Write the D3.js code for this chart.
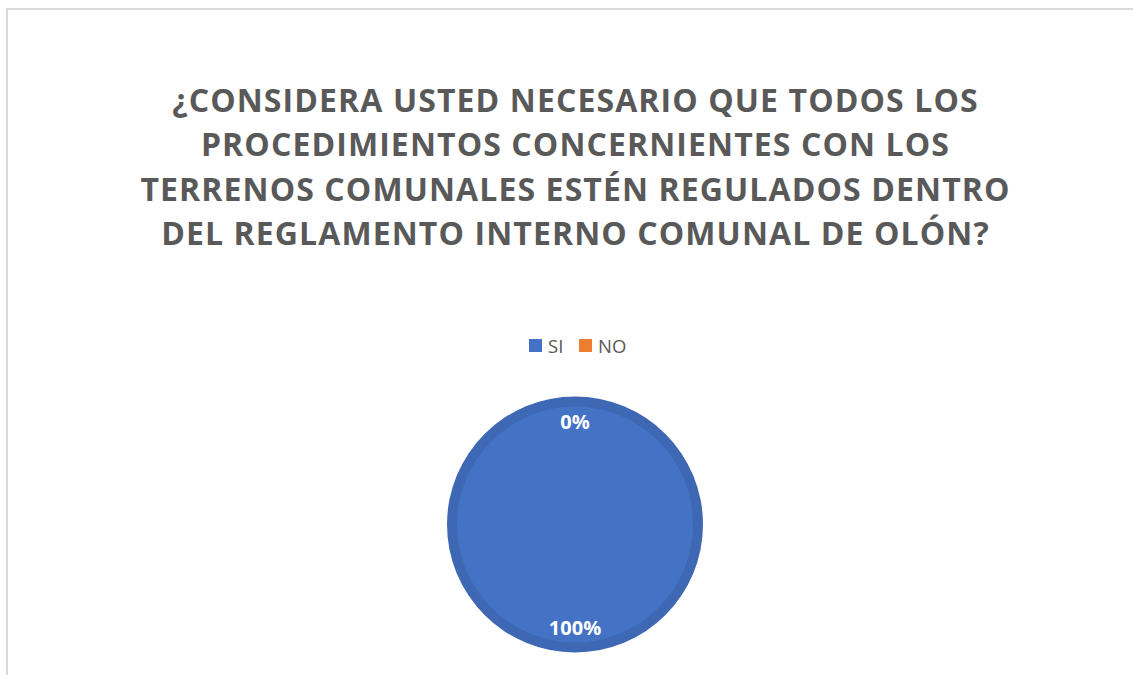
<!DOCTYPE html>
<html>
<head>
<meta charset="utf-8">
<script src="https://cdn.jsdelivr.net/npm/d3@7"></script>
<style>
  body { margin: 0; background: #fff; }
  svg { display: block; font-family: "Open Sans", "Noto Sans", sans-serif; }
</style>
</head>
<body>
<div id="chart"></div>
<script>
// chart data
const titleLines = [
    "¿CONSIDERA USTED NECESARIO QUE TODOS LOS",
    "PROCEDIMIENTOS CONCERNIENTES CON LOS",
    "TERRENOS COMUNALES ESTÉN REGULADOS DENTRO",
    "DEL REGLAMENTO INTERNO COMUNAL DE OLÓN?"
];
const categories = ["SI", "NO"];
const values = [100, 0];
const colors = ["#4472C4", "#ED7D31"];

const width = 1133, height = 675;

const svg = d3.select("#chart")
    .append("svg")
    .attr("width", width)
    .attr("height", height);

// chart area border (cropped on right and bottom)
svg.append("rect")
    .attr("x", 7)
    .attr("y", 9)
    .attr("width", 1140)
    .attr("height", 700)
    .attr("fill", "none")
    .attr("stroke", "#d9d9d9")
    .attr("stroke-width", 2);

// title
svg.append("g")
    .selectAll("text")
    .data(titleLines)
    .join("text")
    .attr("x", 575.5)
    .attr("y", (d, i) => 112 + i * 44.3)
    .attr("text-anchor", "middle")
    .attr("font-size", 32)
    .attr("font-weight", "bold")
    .attr("letter-spacing", 1.1)
    .attr("fill", "#595959")
    .text(d => d);

// legend
const legendData = categories.map((c, i) => ({ name: c, color: colors[i] }));
const legendX = [529, 579];
const legend = svg.append("g");
legend.selectAll("rect")
    .data(legendData)
    .join("rect")
    .attr("x", (d, i) => legendX[i])
    .attr("y", 339)
    .attr("width", 13)
    .attr("height", 13)
    .attr("fill", d => d.color);
legend.selectAll("text")
    .data(legendData)
    .join("text")
    .attr("x", (d, i) => legendX[i] + 19)
    .attr("y", 353)
    .attr("font-size", 18.5)
    .attr("fill", "#595959")
    .text(d => d.name);

// pie
const cx = 575, cy = 524.5, R = 128;
const pieData = d3.pie().sort(null).value(d => d.value)(
    categories.map((c, i) => ({ name: c, value: values[i], color: colors[i] }))
);

const outerArc = d3.arc().innerRadius(0).outerRadius(R);
const innerArc = d3.arc().innerRadius(0).outerRadius(R - 10);
const labelArc = d3.arc().innerRadius(103).outerRadius(103);

const pieG = svg.append("g").attr("transform", `translate(${cx},${cy})`);

pieG.selectAll("path.outer")
    .data(pieData)
    .join("path")
    .attr("class", "outer")
    .attr("d", outerArc)
    .attr("fill", d => d3.color(d.data.color).darker(0.25));

pieG.selectAll("path.inner")
    .data(pieData)
    .join("path")
    .attr("class", "inner")
    .attr("d", innerArc)
    .attr("fill", d => d.data.color);

const total = d3.sum(values);
pieG.selectAll("text")
    .data(pieData)
    .join("text")
    .attr("transform", d => `translate(${labelArc.centroid(d)})`)
    .attr("text-anchor", "middle")
    .attr("dy", "0.35em")
    .attr("font-size", 20)
    .attr("font-weight", "bold")
    .attr("fill", "#fff")
    .text(d => `${Math.round(d.data.value / total * 100)}%`);
</script>
</body>
</html>
